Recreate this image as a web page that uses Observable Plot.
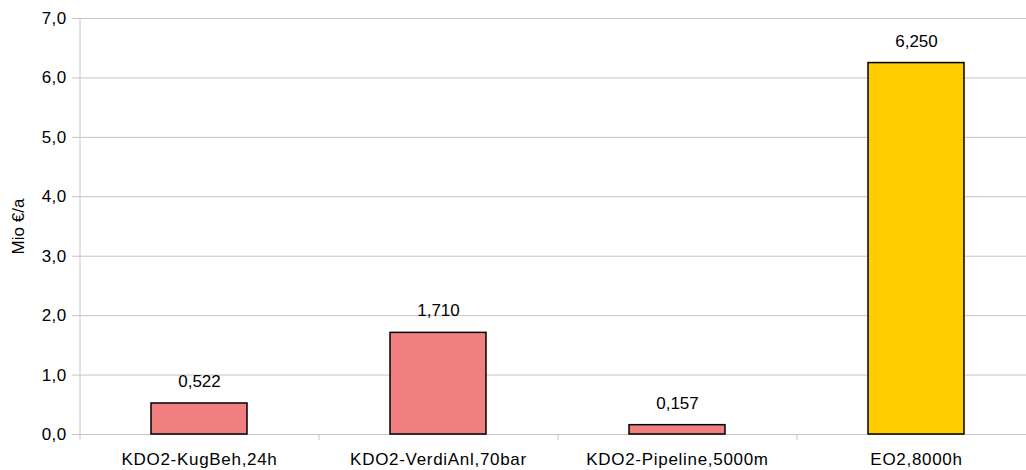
<!DOCTYPE html>
<html>
<head>
<meta charset="utf-8">
<script src="https://cdn.jsdelivr.net/npm/d3@7"></script>
<script src="https://cdn.jsdelivr.net/npm/@observablehq/plot@0.6"></script>
<style>
  html, body { margin: 0; padding: 0; background: #fff; }
  #chart svg { font-family: "Liberation Sans", Arial, sans-serif; }
  #chart g[aria-label="x-axis tick label"] text { letter-spacing: 0.7px; }
  #chart g[aria-label="y-axis tick label"] text { letter-spacing: 0.4px; }
</style>
</head>
<body>
<div id="chart"></div>
<script>
const categories = ["KDO2-KugBeh,24h", "KDO2-VerdiAnl,70bar", "KDO2-Pipeline,5000m", "EO2,8000h"];
const values = [0.522, 1.710, 0.157, 6.250];
const colors = ["#f08080", "#f08080", "#f08080", "#ffcc00"];
const valueLabels = ["0,522", "1,710", "0,157", "6,250"];
const yTicks = [0, 1, 2, 3, 4, 5, 6, 7];

const data = categories.map((c, i) => ({cat: c, v: values[i], color: colors[i], label: valueLabels[i]}));
const step = (1035 - 79) / categories.length;
const fmt = d => d.toFixed(1).replace(".", ",");

const chart = Plot.plot({
  width: 1026,
  height: 470,
  marginLeft: 79,
  marginRight: 0,
  marginTop: 18,
  marginBottom: 36,
  style: {fontSize: "17px", fontFamily: "Liberation Sans, Arial, sans-serif", background: "#fff", color: "#000"},
  x: {domain: categories, range: [79, 1035], paddingInner: 0.6, paddingOuter: 0.3},
  y: {domain: [0, 7]},
  marks: [
    Plot.gridY(yTicks, {stroke: "#c4c4c4", strokeOpacity: 1}),
    Plot.ruleX([categories[0]], {x: d => d, dx: -step / 2, stroke: "#c4c4c4"}),
    Plot.axisY({ticks: yTicks, tickSize: 7, tickPadding: 6, tickFormat: fmt, stroke: "#c4c4c4", fill: "#000",
      label: "Mio €/a", labelAnchor: "center", labelArrow: "none", labelOffset: 68}),
    Plot.axisX({ticks: categories, tickSize: 6, dx: -step / 2, tickFormat: () => "", stroke: "#c4c4c4", label: null}),
    Plot.axisX({ticks: categories, tickSize: 0, tickPadding: 18, fill: "#000", label: null}),
    Plot.barY(data, {x: "cat", y: "v", fill: "color", stroke: "#000", strokeWidth: 1.5}),
    Plot.text(data, {x: "cat", y: "v", text: "label", dy: -22, fill: "#000", fontSize: 17})
  ]
});
document.getElementById("chart").appendChild(chart);
</script>
</body>
</html>
